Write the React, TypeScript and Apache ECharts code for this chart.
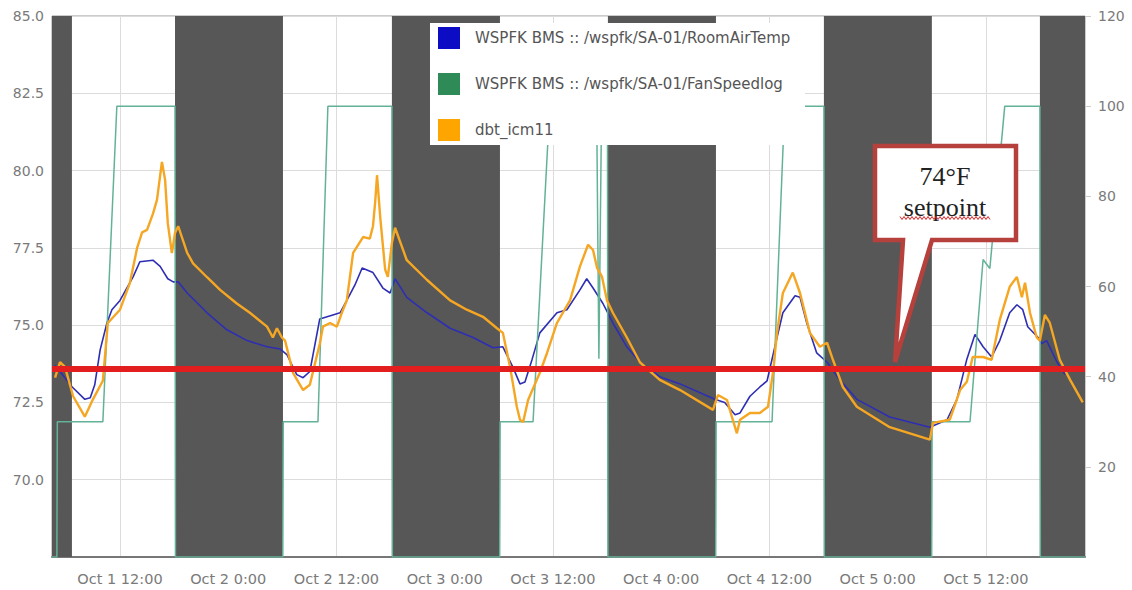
import React, { useEffect, useRef } from "react";
import * as echarts from "echarts";

// Time is expressed as hours since Oct 1 0:00.
const xMin = 4.46;
const xMax = 119.0;
const xTickHours = [12, 24, 36, 48, 60, 72, 84, 96, 108];

const nameRoom = "WSPFK BMS :: /wspfk/SA-01/RoomAirTemp";
const nameFan = "WSPFK BMS :: /wspfk/SA-01/FanSpeedlog";
const nameDbt = "dbt_icm11";

const roomAirTemp: [number, number][] = [
  [4.8, 73.7], [5.35, 73.5], [6.7, 73.0], [8.1, 72.6], [8.7, 72.65], [9.2, 73.07], [9.8, 74.2],
  [10.55, 75.07], [11.1, 75.5], [12.0, 75.8], [13.45, 76.56], [14.2, 77.05], [15.65, 77.1],
  [16.45, 76.9], [17.3, 76.5], [17.9, 76.4], [18.45, 76.4], [19.45, 76.04], [21.65, 75.4],
  [23.85, 74.85], [26.1, 74.5], [28.3, 74.3], [29.75, 74.23], [30.5, 74.05], [31.6, 73.4],
  [32.3, 73.3], [33.05, 73.5], [34.15, 75.2], [35.6, 75.33], [36.4, 75.4], [37.15, 75.8],
  [38.05, 76.3], [38.85, 76.85], [40.05, 76.7], [41.15, 76.2], [41.95, 76.04], [42.5, 76.5],
  [43.8, 75.9], [46.05, 75.4], [48.6, 74.9], [51.15, 74.6], [53.35, 74.27], [54.45, 74.3],
  [55.55, 73.65], [56.35, 73.1], [56.9, 73.16], [57.7, 73.9], [58.55, 74.75], [60.45, 75.4],
  [61.55, 75.5], [63.0, 76.14], [63.75, 76.5], [64.45, 76.2], [65.55, 75.7], [66.65, 75.07],
  [68.2, 74.3], [69.65, 73.8], [71.85, 73.33], [74.1, 73.1], [77.95, 72.6], [79.05, 72.5],
  [80.2, 72.1], [80.75, 72.16], [81.85, 72.7], [82.95, 73.0], [83.75, 73.2], [84.85, 74.6],
  [85.5, 75.4], [86.85, 75.95], [87.4, 75.9], [88.15, 75.07], [89.25, 74.1], [90.4, 73.8],
  [91.8, 73.23], [93.7, 72.6], [97.35, 72.03], [101.8, 71.7], [103.7, 71.94], [104.8, 72.6],
  [105.9, 73.9], [106.8, 74.7], [107.7, 74.3], [108.65, 73.97], [109.55, 74.5], [110.65, 75.4],
  [111.45, 75.66], [112.1, 75.5], [112.65, 74.95], [113.8, 74.6], [114.2, 74.4], [114.75, 74.5],
  [115.9, 73.8], [116.8, 73.4],
];

const fanSpeed: [number, number][] = [
  [4.46, 0], [5.0, 0], [5.05, 30], [10.1, 30], [11.65, 100], [18.1, 100], [18.15, 0],
  [30.05, 0], [30.1, 30], [33.95, 30], [35.05, 100], [42.15, 100], [42.2, 0],
  [54.1, 0], [54.15, 30], [57.8, 30], [59.65, 100], [64.85, 100], [65.1, 44], [65.4, 100],
  [66.05, 100], [66.1, 0], [78.05, 0], [78.1, 30], [84.3, 30], [85.7, 100], [90.05, 100],
  [90.1, 0], [102.0, 0], [102.05, 30], [106.25, 30], [107.7, 66], [108.45, 64], [110.1, 100],
  [114.0, 100], [114.05, 0], [119.0, 0],
];

const dbtIcm11: [number, number][] = [
  [4.8, 73.3], [5.35, 73.8], [5.9, 73.65], [6.8, 72.7], [8.1, 72.04], [9.0, 72.6], [10.1, 73.2],
  [10.65, 75.07], [12.0, 75.5], [13.1, 76.37], [13.9, 77.5], [14.45, 78.0], [15.0, 78.08],
  [15.65, 78.6], [16.1, 79.05], [16.65, 80.28], [17.0, 79.7], [17.3, 78.3], [17.75, 77.33],
  [18.1, 77.98], [18.45, 78.2], [19.45, 77.34], [20.1, 77.0], [21.65, 76.55], [23.1, 76.14],
  [24.95, 75.7], [26.4, 75.4], [28.3, 74.95], [28.95, 74.6], [29.4, 74.9], [29.95, 74.6],
  [30.3, 74.5], [31.2, 73.45], [32.3, 72.9], [33.05, 73.07], [34.15, 74.4], [34.5, 74.95],
  [35.3, 75.07], [36.05, 74.95], [36.6, 75.4], [37.15, 75.8], [37.85, 77.34], [38.95, 77.85],
  [39.7, 77.8], [40.05, 78.2], [40.3, 79.0], [40.5, 79.85], [40.85, 78.5], [41.4, 76.8],
  [41.7, 76.56], [42.15, 77.66], [42.5, 78.15], [43.8, 77.1], [46.05, 76.46], [48.6, 75.8],
  [50.45, 75.5], [52.25, 75.27], [53.8, 74.9], [54.45, 74.75], [55.25, 73.65], [56.0, 72.36],
  [56.35, 71.94], [56.7, 71.87], [57.25, 72.58], [58.55, 73.46], [59.35, 74.1], [60.45, 75.07],
  [61.9, 75.8], [63.0, 76.9], [63.9, 77.6], [64.45, 77.43], [64.9, 76.85], [65.45, 76.56],
  [66.0, 75.8], [66.65, 75.4], [68.2, 74.6], [69.65, 73.8], [71.85, 73.23], [74.1, 72.9],
  [77.75, 72.26], [78.3, 72.74], [79.3, 72.58], [79.85, 72.03], [80.4, 71.5], [80.75, 71.94],
  [81.85, 72.16], [82.95, 72.16], [83.85, 72.36], [84.4, 73.46], [84.85, 74.75], [85.5, 76.04],
  [86.6, 76.7], [87.4, 76.04], [88.5, 74.75], [89.6, 74.3], [90.4, 74.43], [91.05, 73.88],
  [92.15, 73.0], [93.7, 72.36], [97.35, 71.7], [101.8, 71.3], [102.15, 71.84], [104.0, 71.94],
  [105.15, 72.9], [105.9, 73.17], [106.55, 73.97], [107.7, 73.97], [108.65, 73.88],
  [109.55, 75.17], [110.65, 76.24], [111.45, 76.56], [112.0, 75.9], [112.35, 76.37],
  [112.9, 75.4], [113.65, 74.6], [114.0, 74.5], [114.55, 75.33], [115.1, 75.07], [116.2, 73.88],
  [117.35, 73.23], [118.75, 72.5],
];

// Unoccupied (dark) periods, hours since Oct 1 0:00
const unoccupiedStart = [4.46, 18.1, 42.15, 66.1, 90.05, 114.0];
const unoccupiedEnd = [6.67, 30.07, 54.13, 78.08, 102.02, 119.0];

const setpointValue = 73.6;
const calloutLines = ["74°F", "setpoint"];

const fmtHour = (h: number) => {
  const day = Math.floor(h / 24 + 1e-6);
  const hr = Math.round(h - day * 24);
  return `Oct ${day + 1} ${hr}:00`;
};

const labelColor = "#7a7a7a";
const labelFont = "DejaVu Sans";

export default function App() {
  const ref = useRef<HTMLDivElement>(null);
  useEffect(() => {
    const chart = echarts.init(ref.current!, null, { renderer: "svg" });

    const zig: number[][] = [];
    for (let x = 900, i = 0; x <= 990; x += 2, i++) zig.push([x, 218 + (i % 2 ? 1.5 : -1.5)]);

    const option: any = {
      animation: false,
      backgroundColor: "#ffffff",
      grid: { left: 52, right: 47, top: 16, bottom: 33, show: true, borderColor: "#9a9a9a", borderWidth: 1, backgroundColor: "#ffffff" },
      legend: {
        orient: "vertical",
        left: 430,
        top: 23,
        padding: [4, 8, 4, 8],
        itemWidth: 22,
        itemHeight: 22,
        itemGap: 24,
        icon: "rect",
        selectedMode: false,
        textStyle: { color: "#555", fontFamily: labelFont, fontSize: 15, padding: [0, 0, 0, 10] },
        data: [
          { name: nameRoom, itemStyle: { color: "#0c0cc4" } },
          { name: nameFan, itemStyle: { color: "#2e8b57" } },
          { name: nameDbt, itemStyle: { color: "#ffa500" } },
        ],
      },
      xAxis: {
        type: "value",
        min: xMin,
        max: xMax,
        axisLine: { show: true, onZero: false, lineStyle: { color: "#777", width: 2 } },
        axisTick: { show: false, customValues: xTickHours },
        axisLabel: { customValues: xTickHours, formatter: (v: number) => fmtHour(v), color: labelColor, fontFamily: labelFont, fontSize: 14.5, margin: 14 },
        splitLine: { show: true, lineStyle: { color: "#dcdcdc", width: 1 } },
      },
      yAxis: [
        {
          type: "value",
          min: 67.5,
          max: 85,
          interval: 2.5,
          position: "left",
          axisLine: { show: false },
          axisTick: { show: false },
          axisLabel: { showMinLabel: false, formatter: (v: number) => v.toFixed(1), color: labelColor, fontFamily: labelFont, fontSize: 14, margin: 8 },
          splitLine: { show: true, lineStyle: { color: "#dcdcdc", width: 1 } },
        },
        {
          type: "value",
          min: 0,
          max: 120,
          interval: 20,
          position: "right",
          axisLine: { show: false },
          axisTick: { show: true, length: 6, lineStyle: { color: "#cccccc" } },
          axisLabel: { showMinLabel: false, color: labelColor, fontFamily: labelFont, fontSize: 14, margin: 13 },
          splitLine: { show: false },
        },
      ],
      graphic: [
        { type: "rect", z: 3, shape: { x: 430, y: 23, width: 375, height: 122 }, style: { fill: "#ffffff" } },
        {
          type: "polygon",
          z: 20,
          shape: { points: [[875, 146], [1016, 146], [1016, 240], [932, 240], [895, 362], [903, 240], [875, 240]] },
          style: { fill: "#ffffff", stroke: "#b5403c", lineWidth: 4.5, lineJoin: "miter" },
        },
        { type: "text", z: 21, x: 945, y: 176, style: { text: calloutLines[0], fill: "#222", font: '26px "Liberation Serif"', align: "center", verticalAlign: "middle" } },
        { type: "text", z: 21, x: 945, y: 207, style: { text: calloutLines[1], fill: "#222", font: '26px "Liberation Serif"', align: "center", verticalAlign: "middle" } },
        { type: "polyline", z: 21, shape: { points: zig }, style: { stroke: "#e02020", lineWidth: 1, fill: null } },
      ],
      series: [
        {
          name: "bands",
          type: "line",
          z: 1,
          silent: true,
          data: [[xMin, 70]],
          showSymbol: false,
          lineStyle: { opacity: 0 },
          markArea: {
            silent: true,
            itemStyle: { color: "#575757", opacity: 1 },
            data: unoccupiedStart.map((s, i) => [{ xAxis: s }, { xAxis: unoccupiedEnd[i] }]),
          },
        },
        {
          name: nameRoom,
          type: "line",
          yAxisIndex: 0,
          z: 2,
          data: roomAirTemp,
          showSymbol: false,
          lineStyle: { color: "#2e2eb4", width: 1.6 },
          itemStyle: { color: "#2e2eb4" },
        },
        {
          name: nameFan,
          type: "line",
          yAxisIndex: 1,
          z: 2,
          data: fanSpeed,
          showSymbol: false,
          lineStyle: { color: "#63b296", width: 1.5 },
          itemStyle: { color: "#63b296" },
        },
        {
          name: nameDbt,
          type: "line",
          yAxisIndex: 0,
          z: 2,
          data: dbtIcm11,
          showSymbol: false,
          lineStyle: { color: "#f5a623", width: 2.4 },
          itemStyle: { color: "#f5a623" },
        },
        {
          name: "setpoint",
          type: "line",
          z: 10,
          data: [],
          markLine: {
            silent: true,
            symbol: ["none", "none"],
            label: { show: false },
            lineStyle: { color: "#e31e1e", width: 6, type: "solid" },
            data: [{ yAxis: setpointValue }],
          },
        },
      ],
    };
    chart.setOption(option);
    return () => chart.dispose();
  }, []);
  return <div ref={ref} style={{ position: "fixed", left: 0, top: 0, width: 1132, height: 590, background: "#fff" }} />;
}
